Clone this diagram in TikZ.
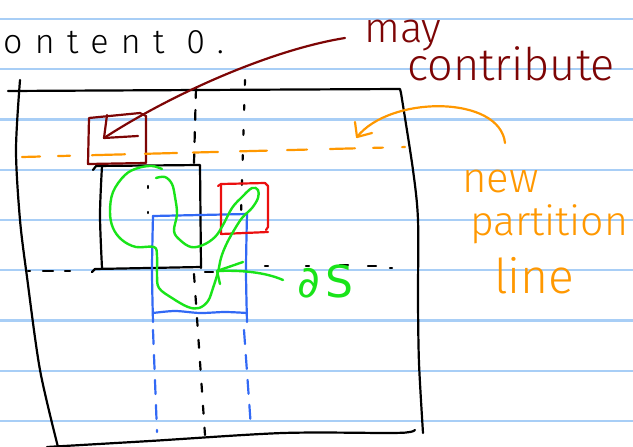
\documentclass[tikz,border=0pt]{standalone}
\usepackage{fontspec}
\setmainfont{Fira Sans}
\newfontfamily\hand{Fira Sans Light}
\newfontfamily\handwide[LetterSpace=36]{Fira Sans Light}
\newfontfamily\symfont{DejaVu Sans}
\definecolor{ruleblue}{RGB}{168,206,246}
\definecolor{penblue}{RGB}{50,105,245}
\definecolor{penred}{RGB}{235,15,15}
\definecolor{pendark}{RGB}{125,5,5}
\definecolor{penorange}{RGB}{255,152,0}
\definecolor{pengreen}{RGB}{25,228,25}
\tikzset{
  ruled/.style={draw=ruleblue, line width=2.2},
  ink/.style={draw=black, line width=2.2},
  handtext/.style={inner sep=0, anchor=base west, font=\hand\fontsize{42}{42}\selectfont},
}
\begin{document}
\begin{tikzpicture}[x=1pt,y=-1pt,line cap=round,line join=round]
\useasboundingbox (0,0) rectangle (633,447);
\fill[white] (0,0) rectangle (633,447);
% ruled paper
\foreach \k in {0,...,8} \draw[ruled] (0,{19+50.25*\k}) -- (633,{19+50.25*\k});

% heading text
\node[handtext, font=\handwide\fontsize{34}{34}\selectfont] (head) at (3,53) {ontent 0.};

% outer frame
\draw[ink] (8,91) -- (200,90) -- (400,89) -- (401,93);
\draw[ink] plot[smooth] coordinates {(401,93) (413,170) (418,220) (418,300) (419,363) (423,433)};
\draw[ink] plot[smooth] coordinates {(47,447) (150,441) (283,433) (390,433) (410,432) (415,430)};
\draw[ink] plot[smooth] coordinates {(20,80) (16,150) (20,220) (27,277) (40,370) (58,447)};

% dashed partition lines
\draw[ink, dash pattern=on 10 off 12] (196,88) -- (194,163);
\draw[ink, dash pattern=on 8 off 14] (194,274) -- (205,435);
\draw[ink, dash pattern=on 5 off 20] (245,80) -- (241,215);
\draw[ink, dash pattern=on 2 off 24] (148,186) -- (148,213);
\draw[ink, dash pattern=on 2 off 13 on 10 off 12 on 5 off 30] (28,271) -- (92,271);
\draw[ink] (205,272) -- (213,272);
\foreach \a/\b/\y in {265/268/266, 306/309/266, 340/348/265, 368/376/266, 390/392/268}
  \draw[ink] (\a,\y) -- (\b,\y);

% black box
\draw[ink] (93,170) -- (96,166) -- (200,165) -- (201,268);
\draw[ink] (92,272) -- (95,269) -- (201,267);
\draw[ink] plot[smooth] coordinates {(102,166) (100,215) (102,268)};

% dark red box
\draw[draw=pendark, line width=2.2] (89,118) -- (140,113) -- (146,116) -- (146,163) -- (88,164) -- cycle;

% orange new partition line
\foreach \a/\b in {22/40, 58/70, 92/125, 145/177, 193/218, 240/267, 287/307, 330/355, 373/383, 402/405}
  \draw[draw=penorange, line width=2.2] (\a,{157-(\a-22)*0.026}) -- (\b,{157-(\b-22)*0.026});

% blue box and its downward continuation
\draw[draw=penblue, line width=2.2] (153,216) -- (247,214);
\draw[draw=penblue, line width=2.2] plot[smooth] coordinates {(153,216) (152,270) (153,322)};
\draw[draw=penblue, line width=2.2] plot[smooth] coordinates {(247,214) (246,270) (247,322)};
\draw[draw=penblue, line width=2.2] plot[smooth] coordinates {(153,313) (175,311) (200,313) (225,312) (247,313)};
\draw[draw=penblue, line width=2.2, dash pattern=on 14 off 11] (153,330) -- (157,432);
\draw[draw=penblue, line width=2.2, dash pattern=on 14 off 11] (244,330) -- (251,428);

% red box
\draw[draw=penred, line width=2.2] (218,186) -- (221,184) -- (265,183) -- (268,186) -- (268,227) -- (266,230);
\draw[draw=penred, line width=2.2] (221,184) -- (221,234) -- (268,232);

% green boundary curve
\draw[draw=pengreen, line width=2.4] plot[smooth, tension=0.6] coordinates {
 (156,178) (165,177) (172,184) (175,197) (177,214) (174,231) (180,240) (191,247) (203,245)
 (215,237) (223,225) (232,208) (242,197) (252,188) (258,190) (258,198) (252,208) (242,218)
 (233,232) (226,245) (221,258) (218,272) (213,288) (208,301) (199,308) (188,307) (172,298)
 (159,288) (157,275) (157,256) (154,247) (136,247) (122,240) (113,228) (110,212) (113,192)
 (125,175) (138,168) (152,166) (162,169)};

% labels
\node[handtext, text=pendark] (may) at (364,42) {may};
\node[handtext, text=pendark, font=\hand\fontsize{45}{45}\selectfont] (contrib) at (407,80) {contribute};
\node[handtext, text=penorange] (new) at (462,192) {new};
\node[handtext, text=penorange, font=\hand\fontsize{41}{41}\selectfont] (partition) at (470,235) {partition};
\node[handtext, text=penorange, font=\hand\fontsize{48}{48}\selectfont] (line) at (494,293) {line};
\node[inner sep=0, anchor=base west, text=pengreen, font=\symfont\fontsize{44}{44}\selectfont] (dS) at (297,297) {∂\hspace{6pt}S};

% arrows
\coordinate (mayA) at (345,38);
\coordinate (mayTip) at (104,138);
\draw[draw=pendark, line width=2.2] (mayA) .. controls (270,50) and (170,95) .. (mayTip);
\draw[draw=pendark, line width=2.2] (mayTip) ++(3,-23) -- (mayTip) -- ++(34,-2);

\coordinate (npStart) at (505,143);
\coordinate (npTip) at (357,137);
\draw[draw=penorange, line width=2.2] (npStart) .. controls (500,95) and (390,95) .. (npTip);
\draw[draw=penorange, line width=2.2] (npTip) ++(-2,-15) -- (npTip) -- ++(15,-4);

\coordinate (dsStart) at (283,280);
\coordinate (dsTip) at (217,271);
\draw[draw=pengreen, line width=2.4] (dsStart) .. controls (265,272) and (240,270) .. (dsTip);
\draw[draw=pengreen, line width=2.4] (dsTip) ++(26,-9) -- (dsTip) -- ++(3,13);
\end{tikzpicture}
\end{document}
